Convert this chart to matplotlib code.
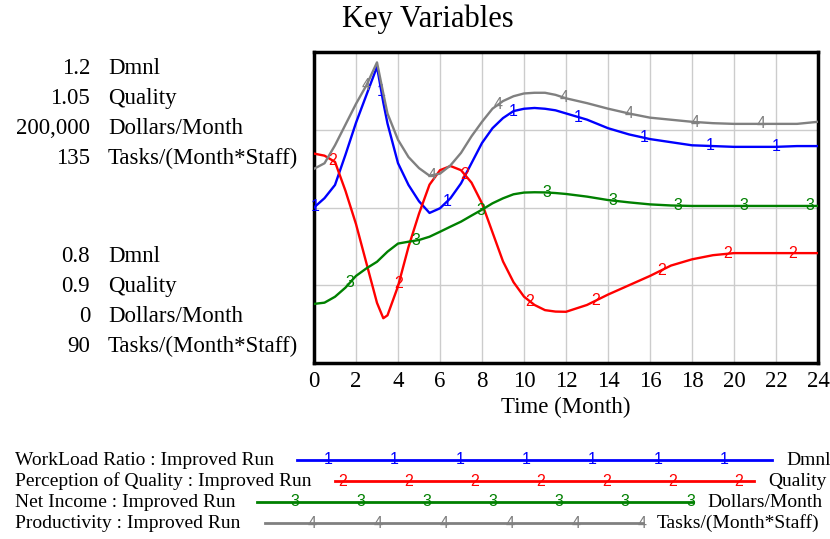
import numpy as np
import matplotlib.pyplot as plt

plt.rcParams['font.family'] = ['Liberation Serif', 'DejaVu Serif']

# ------------------------------------------------------------------
# data
# ------------------------------------------------------------------
months = [0, 0.5, 1, 1.5, 2, 2.5, 3, 3.3, 3.5, 4, 4.5, 5, 5.5, 6, 6.5, 7, 7.5, 8,
          8.5, 9, 9.5, 10, 10.5, 11, 11.5, 12, 13, 14, 15, 16, 17, 18, 19, 20,
          21, 22, 23, 24]

workload = [1.000, 1.012, 1.029, 1.068, 1.109, 1.145, 1.181, 1.135, 1.108, 1.057,
            1.029, 1.008, 0.993, 0.999, 1.012, 1.031, 1.057, 1.083, 1.102, 1.115,
            1.124, 1.127, 1.128, 1.127, 1.125, 1.121, 1.113, 1.102, 1.094, 1.088,
            1.084, 1.080, 1.079, 1.078, 1.078, 1.078, 1.079, 1.079]

quality = [1.001, 1.000, 0.997, 0.983, 0.967, 0.948, 0.929, 0.9216, 0.923, 0.937,
           0.956, 0.972, 0.986, 0.993, 0.995, 0.993, 0.987, 0.977, 0.963, 0.949,
           0.939, 0.932, 0.928, 0.9255, 0.9248, 0.9247, 0.928, 0.933, 0.9375, 0.942,
           0.947, 0.950, 0.952, 0.953, 0.953, 0.953, 0.953, 0.953]

net_income = [38000, 38800, 42600, 48500, 56000, 60900, 65100, 69000, 71600, 76800,
              78000, 79100, 81200, 84400, 87700, 90900, 94800, 98600, 102700, 105900,
              108500, 109600, 109800, 109700, 109300, 108700, 107000, 104800, 103300,
              102000, 101300, 101000, 101000, 101000, 101000, 101000, 101000, 101000]

productivity = [118.1, 118.9, 121.5, 124.5, 127.5, 130.2, 133.5, 129.0, 126.1, 122.3,
                119.8, 118.2, 117.1, 117.4, 118.6, 120.4, 122.8, 124.9, 126.8, 127.9,
                128.6, 129.0, 129.1, 129.1, 128.8, 128.3, 127.6, 126.8, 126.1, 125.5,
                125.2, 124.9, 124.7, 124.6, 124.6, 124.6, 124.6, 124.9]

names = ['WorkLoad Ratio', 'Perception of Quality', 'Net Income', 'Productivity']
units = ['Dmnl', 'Quality', 'Dollars/Month', 'Tasks/(Month*Staff)']
scale_lo = ['0.8', '0.9', '0', '90']
scale_hi = ['1.2', '1.05', '200,000', '135']
limits = [(0.8, 1.2), (0.9, 1.05), (0, 200000), (90, 135)]
series = [workload, quality, net_income, productivity]
colors = ['#0000ff', '#ff0000', '#008000', '#808080']
marker_start = [0.08, 0.9, 1.7, 2.5]  # where the first number label sits (months)
marker_step = 3.13

# ------------------------------------------------------------------
# figure
# ------------------------------------------------------------------
fig = plt.figure(figsize=(8.3, 5.39), dpi=100)

W, H = 830.0, 539.0
ax = fig.add_axes([314 / W, 1 - 363 / H, 504 / W, 311 / H])

axes = [ax] + [ax.twinx() for _ in range(3)]
for i, a in enumerate(axes):
    a.set_ylim(*limits[i])
    a.set_xlim(0, 24)
    if i > 0:
        a.axis('off')
    a.plot(months, series[i], color=colors[i], lw=1.7, zorder=3)
    tm = np.arange(marker_start[i], 24, marker_step)
    for t in tm:
        a.text(t, np.interp(t, months, series[i]), str(i + 1), color=colors[i],
               fontsize=11.5, family='Liberation Sans', ha='center', va='center',
               zorder=4)

ax.set_xticks(np.arange(0, 25, 2))
ax.set_yticks(np.linspace(0.8, 1.2, 5))
ax.set_yticklabels([])
ax.tick_params(axis='both', length=0, labelsize=16.5, pad=6)
ax.grid(True, color='#cccccc', lw=1)
for s in ax.spines.values():
    s.set_linewidth(2.5)
    s.set_color('black')
ax.set_xlabel('Time (Month)', fontsize=16.5, labelpad=3)

fig.text(428 / W, 1 - 27 / H, 'Key Variables', fontsize=22, ha='center', va='baseline')

# left-hand scale labels
for i in range(4):
    y_top = 1 - (74 + 30 * i) / H
    y_bot = 1 - (262 + 30 * i) / H
    fig.text(90 / W, y_top, scale_hi[i], fontsize=16.5, ha='right', va='baseline')
    fig.text(108 / W, y_top, units[i], fontsize=16.5, ha='left', va='baseline')
    fig.text(90 / W, y_bot, scale_lo[i], fontsize=16.5, ha='right', va='baseline')
    fig.text(108 / W, y_bot, units[i], fontsize=16.5, ha='left', va='baseline')

# legend at the bottom
leg = fig.add_axes([0, 0, 1, 1])
leg.set_xlim(0, W)
leg.set_ylim(H, 0)
leg.axis('off')
row_y = [460, 481, 502, 523]
line_x0 = [297, 335, 257, 265]
line_x1 = [772, 754, 693, 643]
first_mark = [328, 343, 295, 312]
for i in range(4):
    leg.text(15, row_y[i] + 5, names[i] + ' : Improved Run', fontsize=14,
             ha='left', va='baseline')
    leg.plot([line_x0[i], line_x1[i]], [row_y[i], row_y[i]], color=colors[i], lw=2)
    for x in np.arange(first_mark[i], line_x1[i], 66):
        leg.text(x, row_y[i], str(i + 1), color=colors[i], fontsize=11.5,
                 family='Liberation Sans', ha='center', va='center')
    leg.text(line_x1[i] + 14, row_y[i] + 5, units[i], fontsize=14, ha='left',
             va='baseline')

fig.savefig('out.png', dpi=100)
